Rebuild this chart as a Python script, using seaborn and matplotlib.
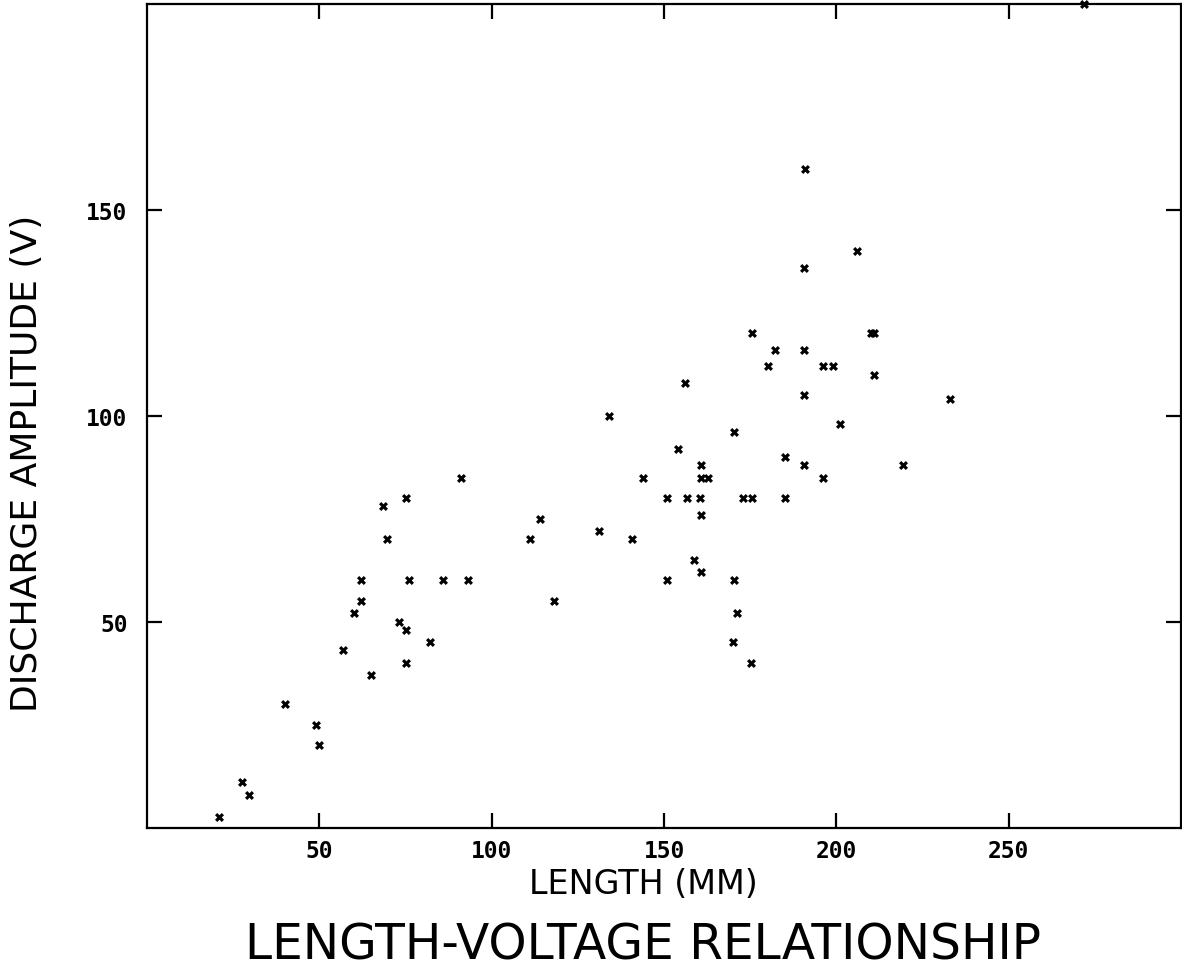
import matplotlib
matplotlib.use("Agg")
import matplotlib.pyplot as plt
import seaborn as sns
import pandas as pd

# Data (LENGTH in mm, DISCHARGE AMPLITUDE in V)
length_mm = [
    91, 75, 68.5, 69.5, 62, 76, 86, 93, 62, 60, 73, 75, 82, 57, 75, 65, 40, 49, 50, 27.5, 29.5, 21,
    175.4, 182.2, 180.3, 156, 134, 170.4, 154, 160.7, 160.7, 162.8, 144, 150.8, 156.7, 160.5,
    173, 175.4, 185, 160.6, 114, 111, 131, 140.8, 158.6, 160.6, 150.8, 170.3, 118, 171.2, 170.1, 175.1,
    191, 206, 190.7, 210, 211, 190.7, 196, 199, 210.8, 190.7, 233, 201, 185.2, 190.7, 219.3, 196,
    272,
]
amplitude_v = [
    85, 80, 78, 70, 60, 60, 60, 60, 55, 52, 50, 48, 45, 43, 40, 37, 30, 25, 20, 11, 8, 2.5,
    120, 116, 112, 108, 100, 96, 92, 88, 85, 85, 85, 80, 80, 80,
    80, 80, 80, 76, 75, 70, 72, 70, 65, 62, 60, 60, 55, 52, 45, 40,
    160, 140, 136, 120, 120, 116, 112, 112, 110, 105, 104, 98, 90, 88, 88, 85,
    200,
]
x_ticks = [50, 100, 150, 200, 250]
y_ticks = [50, 100, 150]

title = "LENGTH-VOLTAGE RELATIONSHIP"
x_label = "LENGTH (MM)"
y_label = "DISCHARGE AMPLITUDE (V)"

df = pd.DataFrame({"length": length_mm, "amplitude": amplitude_v})

sns.set_style("ticks")
plt.rcParams["font.family"] = ["DejaVu Sans"]
plt.rcParams["text.color"] = "black"
plt.rcParams["xtick.color"] = "black"
plt.rcParams["ytick.color"] = "black"
plt.rcParams["axes.labelcolor"] = "black"

W, H = 1182, 978
fig = plt.figure(figsize=(W / 100, H / 100), dpi=100)
ax = fig.add_axes([147 / W, 1 - 828.5 / H, 1034 / W, 823.5 / H])

sns.scatterplot(data=df, x="length", y="amplitude", ax=ax, marker="X", s=42,
                color="black", linewidth=0, clip_on=False, legend=False)

ax.set_xlim(0, 300)
ax.set_ylim(0, 200)
ax.set_xticks(x_ticks)
ax.set_yticks(y_ticks)
ax.set_xticklabels([str(t) for t in x_ticks], family="DejaVu Sans Mono",
                   fontweight="bold", fontsize=16.5, color="black")
ax.set_yticklabels([str(t) for t in y_ticks], family="DejaVu Sans Mono",
                   fontweight="bold", fontsize=16.5, color="black")
ax.tick_params(axis="both", which="both", direction="in", length=11, width=1.6,
               top=True, right=True, color="black", labelcolor="black")
ax.tick_params(axis="x", pad=8)
ax.tick_params(axis="y", pad=14)
for sp in ax.spines.values():
    sp.set_visible(True)
    sp.set_linewidth(1.6)
    sp.set_color("black")

ax.set_xlabel(x_label, fontsize=24, color="black")
ax.xaxis.set_label_coords((643 - 147) / 1034, (828.5 - 868) / 823.5)
ax.set_ylabel(y_label, fontsize=26, color="black")
ax.yaxis.set_label_coords((44 - 147) / 1034, (828.5 - 463) / 823.5)

fig.suptitle(title, x=643 / W, y=1 - 946 / H, va="center", fontsize=35, color="black")

fig.savefig("out.png", dpi=100, facecolor="white")
